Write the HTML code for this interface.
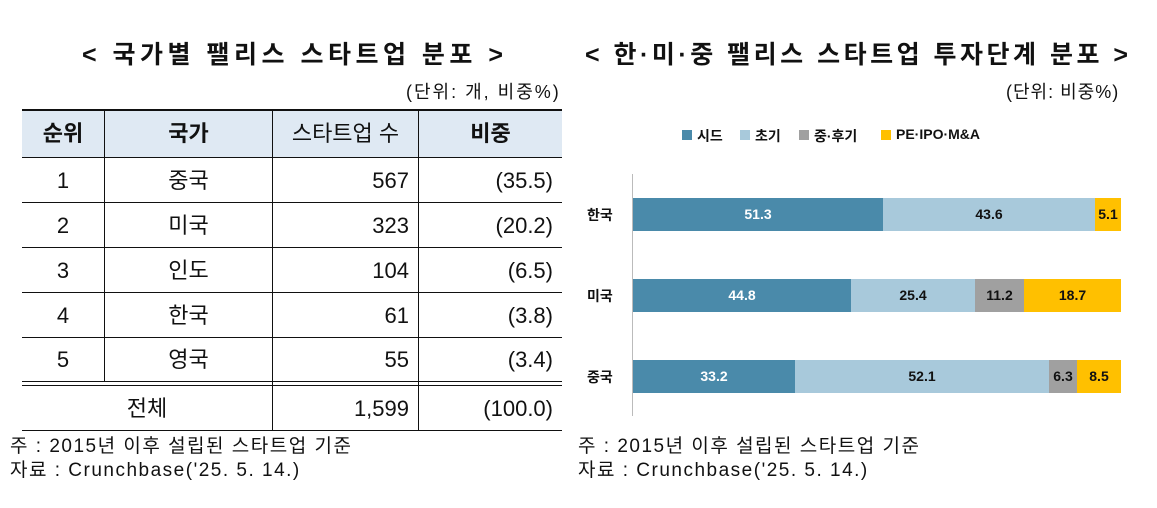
<!DOCTYPE html>
<html><head><meta charset="utf-8"><style>
body{margin:0;width:1157px;height:508px;background:#fff;position:relative;overflow:hidden;font-family:"Liberation Sans","Noto Sans CJK KR",sans-serif;color:#111}
.a{position:absolute;white-space:nowrap}
.t{font-size:25px;font-weight:bold;top:35px}
.h{position:absolute;background:#111}
.c{position:absolute;font-size:22px;line-height:45px;height:45px}
.fn{font-size:19px;letter-spacing:1.5px}
.bar{position:absolute;height:33px;font-size:14px;font-weight:bold;line-height:33px;text-align:center;font-family:"Liberation Sans","NanumGothic",sans-serif}
.lg{position:absolute;top:130px;width:10px;height:10px}
</style></head><body>
<div class="a t" style="left:82px;letter-spacing:4.5px">&lt; 국가별 팰리스 스타트업 분포 &gt;</div>
<div class="a t" style="left:585px;letter-spacing:3.5px">&lt; 한·미·중 팰리스 스타트업 투자단계 분포 &gt;</div>
<div class="a" style="left:406px;top:78px;font-size:18px;letter-spacing:2px">(단위: 개, 비중%)</div>
<div class="a" style="left:1006px;top:78px;font-size:18px;letter-spacing:1px">(단위: 비중%)</div>

<div style="position:absolute;left:22px;top:110px;width:540px;height:47px;background:#dfe9f3"></div>
<div class="h" style="left:22px;top:109px;width:540px;height:2px"></div>
<div class="h" style="left:22px;top:157px;width:540px;height:1px"></div>
<div class="h" style="left:22px;top:202px;width:540px;height:1px"></div>
<div class="h" style="left:22px;top:247px;width:540px;height:1px"></div>
<div class="h" style="left:22px;top:292px;width:540px;height:1px"></div>
<div class="h" style="left:22px;top:337px;width:540px;height:1px"></div>
<div class="h" style="left:22px;top:381px;width:540px;height:1px"></div>
<div class="h" style="left:22px;top:385px;width:540px;height:1px"></div>
<div class="h" style="left:22px;top:430px;width:540px;height:1px"></div>
<div class="h" style="left:104px;top:110px;width:1px;height:272px"></div>
<div class="h" style="left:272px;top:110px;width:1px;height:320px"></div>
<div class="h" style="left:418px;top:110px;width:1px;height:320px"></div>

<div class="c" style="left:22px;top:111px;width:82px;text-align:center;font-weight:bold">순위</div>
<div class="c" style="left:105px;top:111px;width:167px;text-align:center;font-weight:bold">국가</div>
<div class="c" style="left:273px;top:111px;width:145px;text-align:center">스타트업 수</div>
<div class="c" style="left:419px;top:111px;width:143px;text-align:center;font-weight:bold">비중</div>

<div class="c" style="left:22px;top:158px;width:82px;text-align:center">1</div><div class="c" style="left:105px;top:158px;width:167px;text-align:center">중국</div><div class="c" style="left:273px;top:158px;width:136px;text-align:right">567</div><div class="c" style="left:419px;top:158px;width:134px;text-align:right">(35.5)</div>
<div class="c" style="left:22px;top:203px;width:82px;text-align:center">2</div><div class="c" style="left:105px;top:203px;width:167px;text-align:center">미국</div><div class="c" style="left:273px;top:203px;width:136px;text-align:right">323</div><div class="c" style="left:419px;top:203px;width:134px;text-align:right">(20.2)</div>
<div class="c" style="left:22px;top:248px;width:82px;text-align:center">3</div><div class="c" style="left:105px;top:248px;width:167px;text-align:center">인도</div><div class="c" style="left:273px;top:248px;width:136px;text-align:right">104</div><div class="c" style="left:419px;top:248px;width:134px;text-align:right">(6.5)</div>
<div class="c" style="left:22px;top:293px;width:82px;text-align:center">4</div><div class="c" style="left:105px;top:293px;width:167px;text-align:center">한국</div><div class="c" style="left:273px;top:293px;width:136px;text-align:right">61</div><div class="c" style="left:419px;top:293px;width:134px;text-align:right">(3.8)</div>
<div class="c" style="left:22px;top:337px;width:82px;text-align:center">5</div><div class="c" style="left:105px;top:337px;width:167px;text-align:center">영국</div><div class="c" style="left:273px;top:337px;width:136px;text-align:right">55</div><div class="c" style="left:419px;top:337px;width:134px;text-align:right">(3.4)</div>
<div class="c" style="left:22px;top:386px;width:250px;text-align:center">전체</div><div class="c" style="left:273px;top:386px;width:136px;text-align:right">1,599</div><div class="c" style="left:419px;top:386px;width:134px;text-align:right">(100.0)</div>

<div class="a fn" style="left:10px;top:431px">주 : 2015년 이후 설립된 스타트업 기준</div>
<div class="a fn" style="left:10px;top:455px">자료 : Crunchbase('25. 5. 14.)</div>
<div class="a fn" style="left:578px;top:431px">주 : 2015년 이후 설립된 스타트업 기준</div>
<div class="a fn" style="left:578px;top:455px">자료 : Crunchbase('25. 5. 14.)</div>

<div class="lg" style="left:682px;background:#4a8aaa"></div><div class="a" style="left:697px;top:126px;font-size:14px;font-weight:bold">시드</div>
<div class="lg" style="left:740px;background:#a8c9db"></div><div class="a" style="left:755px;top:126px;font-size:14px;font-weight:bold">초기</div>
<div class="lg" style="left:799px;background:#a0a0a0"></div><div class="a" style="left:814px;top:126px;font-size:14px;font-weight:bold">중·후기</div>
<div class="lg" style="left:881px;background:#ffc000"></div><div class="a" style="left:896px;top:126px;font-size:14px;font-weight:bold">PE·IPO·M&amp;A</div>

<div style="position:absolute;left:632px;top:174px;width:1px;height:242px;background:#bbb"></div>
<div class="a" style="left:587px;top:205px;font-size:14px;font-weight:bold">한국</div>
<div class="a" style="left:587px;top:286px;font-size:14px;font-weight:bold">미국</div>
<div class="a" style="left:587px;top:367px;font-size:14px;font-weight:bold">중국</div>

<div class="bar" style="left:633px;top:198px;width:250px;background:#4a8aaa;color:#fff">51.3</div>
<div class="bar" style="left:883px;top:198px;width:212px;background:#a8c9db">43.6</div>
<div class="bar" style="left:1095px;top:198px;width:26px;background:#ffc000">5.1</div>

<div class="bar" style="left:633px;top:279px;width:218px;background:#4a8aaa;color:#fff">44.8</div>
<div class="bar" style="left:851px;top:279px;width:124px;background:#a8c9db">25.4</div>
<div class="bar" style="left:975px;top:279px;width:49px;background:#a0a0a0">11.2</div>
<div class="bar" style="left:1024px;top:279px;width:97px;background:#ffc000">18.7</div>

<div class="bar" style="left:633px;top:360px;width:162px;background:#4a8aaa;color:#fff">33.2</div>
<div class="bar" style="left:795px;top:360px;width:254px;background:#a8c9db">52.1</div>
<div class="bar" style="left:1049px;top:360px;width:28px;background:#a0a0a0">6.3</div>
<div class="bar" style="left:1077px;top:360px;width:44px;background:#ffc000">8.5</div>
</body></html>
